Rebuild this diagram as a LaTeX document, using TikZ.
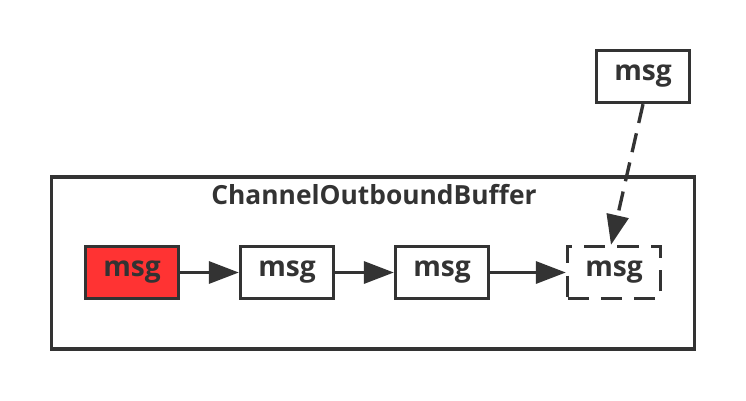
\documentclass[tikz,border=0pt]{standalone}
\usepackage{fontspec}
\setmainfont{Open Sans}
\usetikzlibrary{arrows.meta}
\definecolor{ink}{RGB}{51,51,51}
\definecolor{msgred}{RGB}{255,51,51}

\begin{document}
\begin{tikzpicture}[x=0.02cm,y=-0.02cm,
    msgbox/.style={draw=ink,line width=1.9pt,minimum width=1.86cm,minimum height=1.04cm,
      inner sep=0pt,font=\fontsize{16}{18}\selectfont\bfseries,text=ink},
    link/.style={draw=ink,line width=1.9pt,-{Triangle[length=0.6cm,width=0.44cm]}}]
  \useasboundingbox (0,0) rectangle (746,400);
  \node (buffer) at (373,263) [draw=ink,line width=1.9pt,minimum width=12.86cm,minimum height=3.44cm] {};
  \node (title) at (374,195) [font=\fontsize{15}{18}\selectfont\bfseries,text=ink] {ChannelOutboundBuffer};
  \node (m1) at (132,272.5) [msgbox,fill=msgred] {msg};
  \node (m2) at (287,272.5) [msgbox] {msg};
  \node (m3) at (442,272.5) [msgbox] {msg};
  \node (m4) at (614,272.5) [msgbox,dashed,dash pattern=on 12pt off 7pt] {msg};
  \node (new) at (643,76.5) [msgbox] {msg};
  \draw[link] (m1) -- (m2);
  \draw[link] (m2) -- (m3);
  \draw[link] (m3) -- (m4);
  \draw[link,dash pattern=on 11pt off 6pt] (new.south) -- ([xshift=-0.06cm]m4.north);
\end{tikzpicture}
\end{document}
